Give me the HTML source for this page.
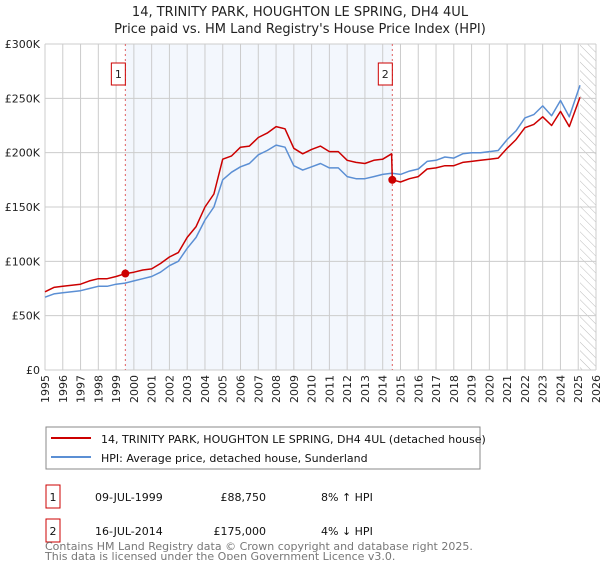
<!DOCTYPE html>
<html><head><meta charset="utf-8"><style>
body{margin:0;background:#fff;font-family:"DejaVu Sans","Liberation Sans",sans-serif;}
svg text{font-family:"DejaVu Sans","Liberation Sans",sans-serif;}
</style></head><body>
<svg id="c" width="600" height="560" xmlns="http://www.w3.org/2000/svg">
<defs><pattern id="hatch" width="6" height="6" patternUnits="userSpaceOnUse" patternTransform="rotate(-45)"><line x1="0" y1="0" x2="0" y2="6" stroke="#bbb" stroke-width="1"/></pattern></defs>
<text x="300" y="16" text-anchor="middle" font-size="13" fill="#222">14, TRINITY PARK, HOUGHTON LE SPRING, DH4 4UL</text>
<text x="300" y="33" text-anchor="middle" font-size="13" fill="#222">Price paid vs. HM Land Registry's House Price Index (HPI)</text>
<g id="plot"></g>
<rect x="46" y="427" width="434" height="42" fill="#fff" stroke="#888"/>
<line x1="51" y1="438" x2="91" y2="438" stroke="#cc0000" stroke-width="2"/>
<text x="101" y="443" font-size="11" fill="#111">14, TRINITY PARK, HOUGHTON LE SPRING, DH4 4UL (detached house)</text>
<line x1="51" y1="457" x2="91" y2="457" stroke="#5b8fd4" stroke-width="2"/>
<text x="101" y="462" font-size="11" fill="#111">HPI: Average price, detached house, Sunderland</text>
<rect x="46" y="485" width="14" height="23" fill="#fff" stroke="#cc0000"/>
<text x="53" y="501" text-anchor="middle" font-size="11" fill="#111">1</text>
<text x="95" y="501" font-size="11" fill="#111">09-JUL-1999</text>
<text x="266" y="501" text-anchor="end" font-size="11" fill="#111">£88,750</text>
<text x="321" y="501" font-size="11" fill="#111">8% ↑ HPI</text>
<rect x="46" y="519" width="14" height="23" fill="#fff" stroke="#cc0000"/>
<text x="53" y="535" text-anchor="middle" font-size="11" fill="#111">2</text>
<text x="95" y="535" font-size="11" fill="#111">16-JUL-2014</text>
<text x="266" y="535" text-anchor="end" font-size="11" fill="#111">£175,000</text>
<text x="321" y="535" font-size="11" fill="#111">4% ↓ HPI</text>
<text x="45" y="550" font-size="11" fill="#777">Contains HM Land Registry data © Crown copyright and database right 2025.</text>
<text x="45" y="560" font-size="11" fill="#777">This data is licensed under the Open Government Licence v3.0.</text>
</svg>
<script>
const hpiYears=[1995,1995.5,1996,1996.5,1997,1997.5,1998,1998.5,1999,1999.5,2000,2000.5,2001,2001.5,2002,2002.5,2003,2003.5,2004,2004.5,2005,2005.5,2006,2006.5,2007,2007.5,2008,2008.5,2009,2009.5,2010,2010.5,2011,2011.5,2012,2012.5,2013,2013.5,2014,2014.5,2015,2015.5,2016,2016.5,2017,2017.5,2018,2018.5,2019,2019.5,2020,2020.5,2021,2021.5,2022,2022.5,2023,2023.5,2024,2024.5,2025.1];
const hpiValues=[67,70,71,72,73,75,77,77,79,80,82,84,86,90,96,100,112,122,138,150,175,182,187,190,198,202,207,205,188,184,187,190,186,186,178,176,176,178,180,181,180,183,185,192,193,196,195,199,200,200,201,202,212,220,232,235,243,234,248,233,262];
const propYears=[1995,1995.5,1996,1996.5,1997,1997.5,1998,1998.5,1999,1999.52,2000,2000.5,2001,2001.5,2002,2002.5,2003,2003.5,2004,2004.5,2005,2005.5,2006,2006.5,2007,2007.5,2008,2008.5,2009,2009.5,2010,2010.5,2011,2011.5,2012,2012.5,2013,2013.5,2014,2014.5,2014.54,2015,2015.5,2016,2016.5,2017,2017.5,2018,2018.5,2019,2019.5,2020,2020.5,2021,2021.5,2022,2022.5,2023,2023.5,2024,2024.5,2025.1];
const propValues=[72,76,77,78,79,82,84,84,86,88.75,90,92,93,98,104,108,122,132,150,162,194,197,205,206,214,218,224,222,204,199,203,206,201,201,193,191,190,193,194,199,175,173,176,178,185,186,188,188,191,192,193,194,195,204,212,223,226,233,225,238,224,251];
const saleYears=[1999.52,2014.54];
const saleValues=[88.75,175];
const saleLabels=["1","2"];
const yTicks=[0,50,100,150,200,250,300];
const yTickLabels=["£0","£50K","£100K","£150K","£200K","£250K","£300K"];
const xTicks=[1995,1996,1997,1998,1999,2000,2001,2002,2003,2004,2005,2006,2007,2008,2009,2010,2011,2012,2013,2014,2015,2016,2017,2018,2019,2020,2021,2022,2023,2024,2025,2026];
const X0=45,X1=596,Y0=370,Y1=44;
const xs=y=>X0+(y-1995)/(2026-1995)*(X1-X0);
const ys=v=>Y0-v/300*(Y0-Y1);
const NS="http://www.w3.org/2000/svg";
const g=document.getElementById('plot');
function mk(t,a){const e=document.createElementNS(NS,t);for(const k in a)e.setAttribute(k,a[k]);g.appendChild(e);return e;}
let e;
e=mk('rect',{x:xs(saleYears[0]),y:Y1,width:xs(saleYears[1])-xs(saleYears[0]),height:Y0-Y1,fill:'#eef3fc',opacity:0.7});


e=mk('rect',{x:xs(2025.1),y:Y1,width:X1-xs(2025.1),height:Y0-Y1,fill:'url(#hatch)'});


xTicks.forEach(t=>{
 e=mk('line',{x1:xs(t),x2:xs(t),y1:Y1,y2:Y0,stroke:'#ccc','stroke-width':1});
 
 
 e=mk('text',{x:0,y:0,'font-size':11,fill:'#222','text-anchor':'end',transform:`translate(${xs(t)+4},${Y0+5}) rotate(-90)`});
 e.textContent=t;
 
 
});
yTicks.forEach((t,i)=>{
 e=mk('line',{x1:X0,x2:X1,y1:ys(t),y2:ys(t),stroke:'#ccc','stroke-width':1});
 
 
 e=mk('text',{x:40,y:ys(t)+4,'font-size':11,fill:'#222','text-anchor':'end'});
 e.textContent=yTickLabels[i];
 
 
});
saleYears.forEach(s=>{
 e=mk('line',{x1:xs(s),x2:xs(s),y1:Y1,y2:Y0,stroke:'#e06060','stroke-width':1,'stroke-dasharray':'2,3'});
 
 
});
function path(xa,va,col,name){
 const d=xa.map((x,i)=>(i?'L':'M')+xs(x).toFixed(1)+','+ys(va[i]).toFixed(1)).join('');
 const p=mk('path',{d:d,fill:'none',stroke:col,'stroke-width':1.5,'stroke-linejoin':'round'});
 
 
}
path(hpiYears,hpiValues,'#5b8fd4','hpi-line');
path(propYears,propValues,'#cc0000','property-price-line');
saleYears.forEach((s,i)=>{
 e=mk('circle',{cx:xs(s),cy:ys(saleValues[i]),r:4,fill:'#cc0000'});
 
 
 e=mk('rect',{x:xs(s)-14,y:63,width:14,height:22,fill:'#fff',stroke:'#cc0000'});
 
 
 e=mk('text',{x:xs(s)-7,y:78,'font-size':11,fill:'#222','text-anchor':'middle'});
 e.textContent=saleLabels[i];
 
 
});
</script>
</body></html>
